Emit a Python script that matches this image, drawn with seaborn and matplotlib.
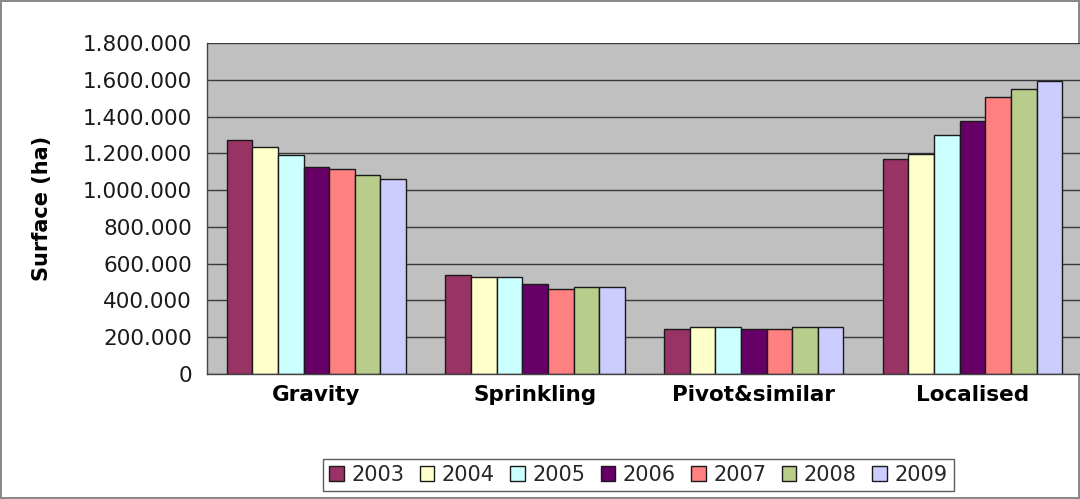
import numpy as np
import pandas as pd
import seaborn as sns
import matplotlib
matplotlib.use("Agg")
import matplotlib.pyplot as plt
from matplotlib.ticker import FuncFormatter, FixedLocator

# %% data
systems = ["Gravity", "Sprinkling", "Pivot&similar", "Localised"]
years = ["2003", "2004", "2005", "2006", "2007", "2008", "2009"]
gravity = [1272000, 1233000, 1193000, 1127000, 1117000, 1082000, 1062000]
sprinkling = [538000, 529000, 529000, 489000, 460000, 475000, 475000]
pivot = [246000, 257000, 257000, 246000, 246000, 257000, 257000]
localised = [1171000, 1196000, 1300000, 1377000, 1505000, 1548000, 1595000]
colors = ["#993366", "#FFFFCC", "#CCFFFF", "#660066", "#FF8080", "#B8CC8C", "#CCCCFF"]

rows = []
for name, vals in zip(systems, [gravity, sprinkling, pivot, localised]):
    for yr, v in zip(years, vals):
        rows.append({"system": name, "year": yr, "area": v})
df = pd.DataFrame(rows)

# %% plot
sns.set_style("white")
plt.rcParams["font.family"] = ["DejaVu Sans"]

fig = plt.figure(figsize=(10.8, 4.99), dpi=100)
fig.patch.set_edgecolor("#8a8a8a")
fig.patch.set_linewidth(1.5)
ax = fig.add_axes([0.1917, 0.2505, 0.81, 0.6633])
ax.set_facecolor("#C0C0C0")

sns.barplot(data=df, x="system", y="area", hue="year", order=systems, hue_order=years,
            palette=colors, saturation=1, width=0.82, gap=0, edgecolor="#1a1a1a",
            linewidth=1, ax=ax, legend=True)

ax.set_xlim(-0.5, 3.5)
ax.set_ylim(0, 1800000)
ax.set_yticks(np.arange(0, 1800001, 200000))
ax.yaxis.set_major_formatter(FuncFormatter(lambda v, p: f"{int(v):,}".replace(",", ".")))
ax.grid(axis="y", color="#3a3a3a", linewidth=1)
ax.set_axisbelow(True)

for s in ["top", "right"]:
    ax.spines[s].set_visible(False)
for s in ["left", "bottom"]:
    ax.spines[s].set_color("#444444")
    ax.spines[s].set_linewidth(1)

ax.tick_params(axis="y", direction="out", length=7, width=1, color="#444444",
               labelsize=15.5, labelcolor="#1a1a1a", pad=4)
ax.tick_params(axis="x", which="major", length=0, labelsize=15.5, labelcolor="#000000", pad=8)
ax.xaxis.set_minor_locator(FixedLocator([-0.5, 0.5, 1.5, 2.5, 3.5]))
ax.tick_params(axis="x", which="minor", direction="out", length=6, color="#444444")
for lbl in ax.get_xticklabels():
    lbl.set_fontweight("bold")

ax.set_xlabel("")
ax.set_ylabel("Surface (ha)", fontsize=15, fontweight="bold", color="#000000", labelpad=22)

handles, labels = ax.get_legend_handles_labels()
ax.get_legend().remove()
leg = fig.legend(handles, labels, loc="center", bbox_to_anchor=(0.591, 0.048), ncol=7,
                 frameon=True, fancybox=False, fontsize=15, handlelength=0.7,
                 handleheight=0.7, handletextpad=0.35, columnspacing=0.75,
                 borderpad=0.3, edgecolor="#333333")
leg.get_frame().set_linewidth(1)

fig.savefig("out.png", dpi=100, edgecolor=fig.get_edgecolor())
